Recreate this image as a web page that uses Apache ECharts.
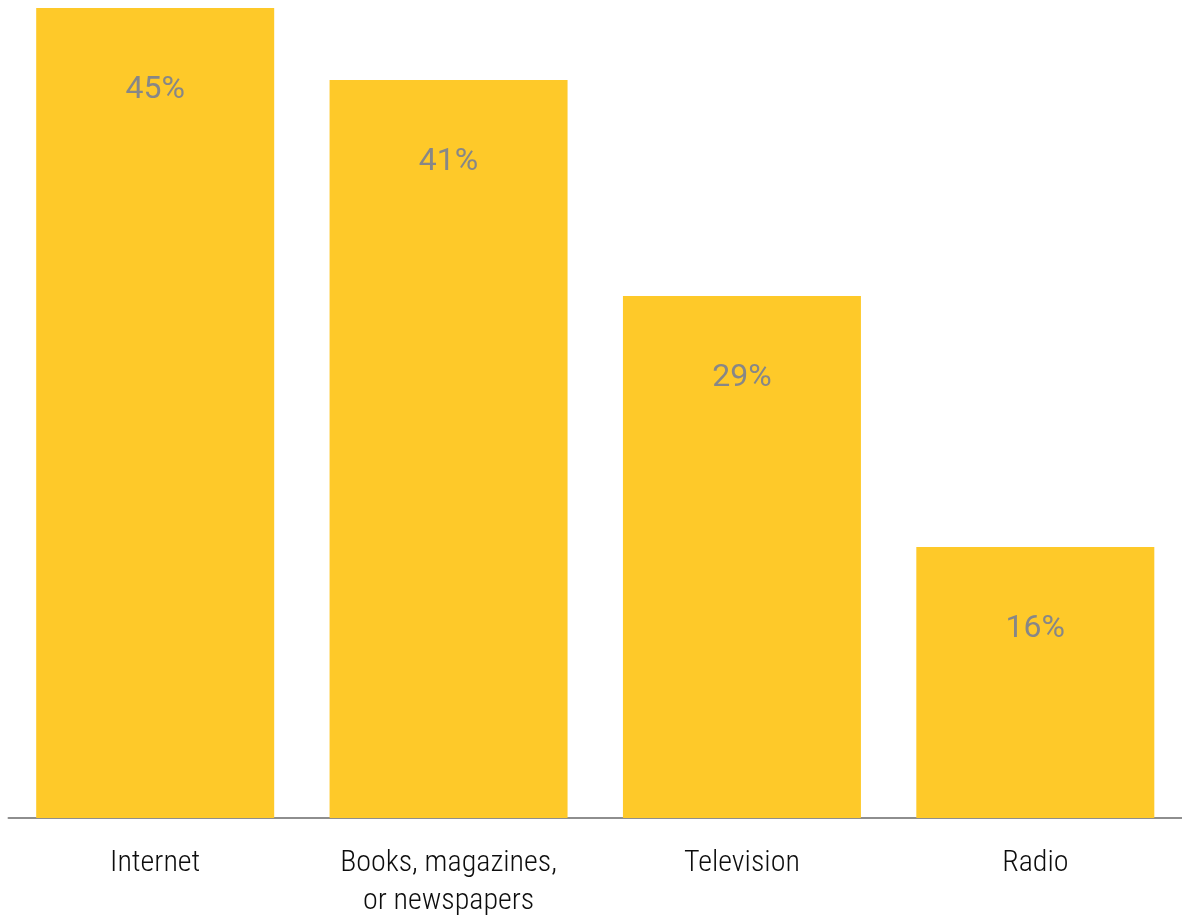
<!DOCTYPE html>
<html>
<head>
<meta charset="utf-8">
<script src="https://cdn.jsdelivr.net/npm/echarts@6/dist/echarts.min.js"></script>
<style>
html,body{margin:0;padding:0;background:#fff;overflow:hidden;}
#c{width:1182px;height:920px;}
</style>
</head>
<body>
<div id="c"></div>
<script>
var categories = ['Internet', 'Books, magazines,\nor newspapers', 'Television', 'Radio'];
var values = [45, 41, 29, 15.05];
var valueLabels = ['45%', '41%', '29%', '16%'];

var chart = echarts.init(document.getElementById('c'));
chart.setOption({
  animation: false,
  grid: {left: 8.5, width: 1188, top: 8, height: 814, containLabel: false},
  xAxis: {
    type: 'category',
    data: categories,
    axisLine: {show: true, lineStyle: {color: '#8e8e8e', width: 2}},
    axisTick: {show: false},
    axisLabel: {
      margin: 26,
      fontFamily: '"Roboto Condensed", Roboto, sans-serif',
      fontSize: 30,
      fontWeight: 300,
      lineHeight: 38,
      color: '#0d0d0d',
      interval: 0
    }
  },
  yAxis: {
    type: 'value',
    min: 0,
    max: 45,
    show: false,
    splitLine: {show: false}
  },
  series: [{
    type: 'bar',
    data: values,
    barWidth: 238,
    itemStyle: {color: '#FEC929'},
    label: {
      show: true,
      position: 'insideTop',
      distance: 66,
      fontFamily: 'Roboto, sans-serif',
      fontSize: 32,
      color: '#878787',
      formatter: function (p) { return valueLabels[p.dataIndex]; }
    }
  }]
});
</script>
</body>
</html>
